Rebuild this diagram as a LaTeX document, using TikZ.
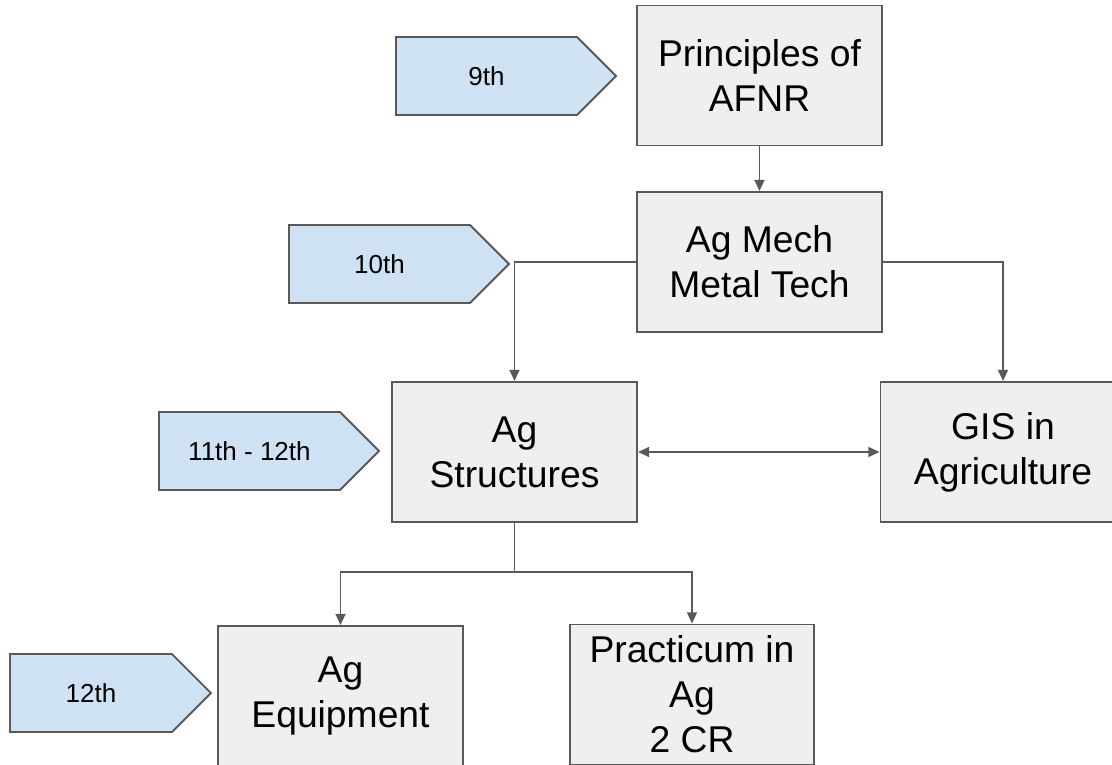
\documentclass[tikz,border=0pt]{standalone}
\usepackage{fontspec}
\setmainfont{Liberation Sans}
\usetikzlibrary{shapes.symbols,arrows.meta}
\definecolor{boxfill}{HTML}{EFEFEF}
\definecolor{boxline}{HTML}{595959}
\definecolor{tagfill}{HTML}{CFE2F3}

\begin{document}
\begin{tikzpicture}[x=0.025cm, y=-0.025cm,
  course/.style={draw=boxline, line width=1.3pt, fill=boxfill, align=center,
    minimum width=6.125cm, minimum height=3.5cm, inner sep=0pt,
    font=\fontsize{26.5}{32}\selectfont},
  grade/.style={signal, signal to=east, signal pointer angle=90, draw=boxline,
    line width=1.3pt, fill=tagfill, minimum width=5.5cm, minimum height=1.95cm,
    inner sep=0pt, anchor=west},
  gradetext/.style={font=\fontsize{18.5}{22}\selectfont},
  link/.style={draw=boxline, line width=1.4pt, -{Triangle[length=8pt,width=7pt]}}]
  \useasboundingbox (0,0) rectangle (1112,764);

  % courses
  \node [course] (afnr) at (759.5,75.5) {Principles of\\AFNR};
  \node [course] (mech) at (759.5,262) {Ag Mech\\Metal Tech};
  \node [course] (struct) at (514.5,452) {Ag\\Structures};
  \node [course] (gis) at (1003,452) {GIS in\\Agriculture};
  \node [course] (equip) at (340.5,696) {Ag\\Equipment};
  \node [course, minimum width=6.1cm] (pract) at (692,694.5) {Practicum in\\Ag\\2 CR};

  % grade tags
  \node [grade, label={[gradetext]center:9th}] (ninth) at (395,76) {};
  \node [grade, label={[gradetext]center:10th}] (tenth) at (288,264) {};
  \node [grade, label={[gradetext]center:11th - 12th}] (eleventh) at (158,451) {};
  \node [grade, minimum width=5.025cm, label={[gradetext]center:12th}] (twelfth) at (9,693) {};

  \coordinate (fork) at (514.5,572);

  \draw [link] (afnr) -- (mech);
  \draw [link] (mech.west) -| (struct.north);
  \draw [link] (mech.east) -| (gis.north);
  \draw [link, {Triangle[length=8pt,width=7pt]}-{Triangle[length=8pt,width=7pt]}] (struct) -- (gis);
  \draw [draw=boxline, line width=1.4pt] (struct.south) -- (fork);
  \draw [link] (fork) -| (equip.north);
  \draw [link] (fork) -| (pract.north);
\end{tikzpicture}
\end{document}
